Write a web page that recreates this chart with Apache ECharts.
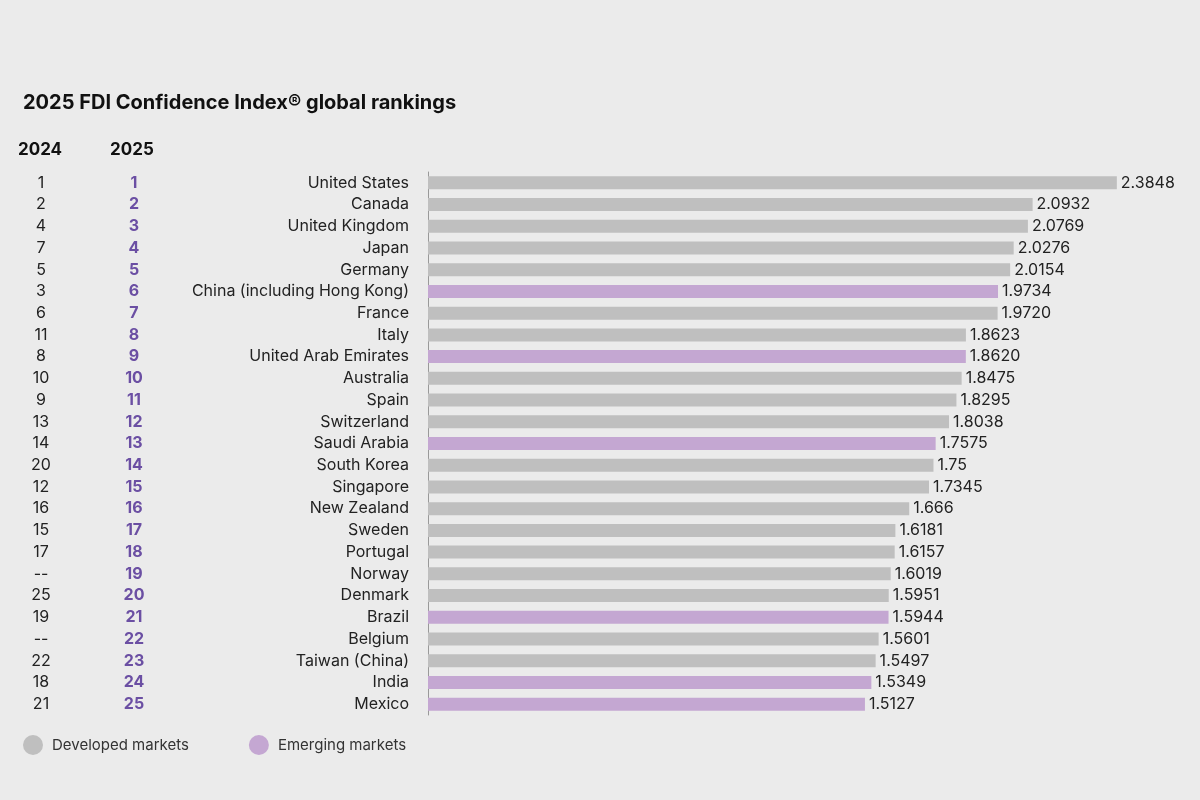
<!DOCTYPE html>
<html><head><meta charset="utf-8">
<script src="https://cdn.jsdelivr.net/npm/echarts@6/dist/echarts.min.js"></script>
<style>html,body{margin:0;padding:0;background:#ebebeb}#c{width:1200px;height:800px}</style>
</head><body><div id="c"></div>
<script>
const countries = ["United States","Canada","United Kingdom","Japan","Germany","China (including Hong Kong)","France","Italy","United Arab Emirates","Australia","Spain","Switzerland","Saudi Arabia","South Korea","Singapore","New Zealand","Sweden","Portugal","Norway","Denmark","Brazil","Belgium","Taiwan (China)","India","Mexico"];
const valueLabels = ["2.3848","2.0932","2.0769","2.0276","2.0154","1.9734","1.9720","1.8623","1.8620","1.8475","1.8295","1.8038","1.7575","1.75","1.7345","1.666","1.6181","1.6157","1.6019","1.5951","1.5944","1.5601","1.5497","1.5349","1.5127"];
const emerging = [0,0,0,0,0,1,0,0,1,0,0,0,1,0,0,0,0,0,0,0,1,0,0,1,1];
const rank2024 = ["1","2","4","7","5","3","6","11","8","10","9","13","14","20","12","16","15","17","--","25","19","--","22","18","21"];
const rank2025 = ["1","2","3","4","5","6","7","8","9","10","11","12","13","14","15","16","17","18","19","20","21","22","23","24","25"];
const values = valueLabels.map(Number);
const devData = values.map((v,i)=>emerging[i]?null:v);
const emData = values.map((v,i)=>emerging[i]?v:null);
const font = 'Inter, "Noto Sans", sans-serif';
const lbl = {show:true,position:'right',distance:4,color:'#222',fontSize:16,fontFamily:font,formatter:p=>valueLabels[p.dataIndex]};
const chart = echarts.init(document.getElementById('c'));
chart.setOption({
  backgroundColor:'#ebebeb',
  animation:false,
  title:{text:'2025 FDI Confidence Index® global rankings',left:18,top:88,textStyle:{fontSize:20,fontWeight:'bold',color:'#111',fontFamily:font}},
  graphic:[
    {type:'text',left:18,top:141,style:{text:'2024',font:'bold 17px '+font,fill:'#111'}},
    {type:'text',left:110,top:141,style:{text:'2025',font:'bold 17px '+font,fill:'#111'}}
  ],
  legend:{left:18,top:730,itemWidth:20,itemHeight:20,icon:'circle',itemGap:60,
    textStyle:{fontSize:15,color:'#333',fontFamily:font,padding:[0,0,0,4]},
    data:['Developed markets','Emerging markets']},
  grid:{left:428,top:172,right:21,height:543},
  xAxis:{type:'value',min:0,max:2.6,show:false},
  yAxis:[
    {type:'category',inverse:true,data:countries,axisTick:{show:false},
      axisLine:{show:true,lineStyle:{color:'#999'}},
      axisLabel:{margin:19,fontSize:16,color:'#222',fontFamily:font}},
    {type:'category',inverse:true,data:rank2024,position:'left',offset:387,axisTick:{show:false},axisLine:{show:false},
      axisLabel:{margin:0,align:'center',fontSize:16,color:'#222',fontFamily:font}},
    {type:'category',inverse:true,data:rank2025,position:'left',offset:294,axisTick:{show:false},axisLine:{show:false},
      axisLabel:{margin:0,align:'center',fontSize:16,fontWeight:'bold',color:'#6b4fa3',fontFamily:font}}
  ],
  series:[
    {name:'Developed markets',type:'bar',data:devData,barWidth:13,barGap:'-100%',itemStyle:{color:'#bfbfbf'},label:lbl},
    {name:'Emerging markets',type:'bar',data:emData,barWidth:13,itemStyle:{color:'#c4a7d2'},label:lbl}
  ]
});
</script></body></html>
